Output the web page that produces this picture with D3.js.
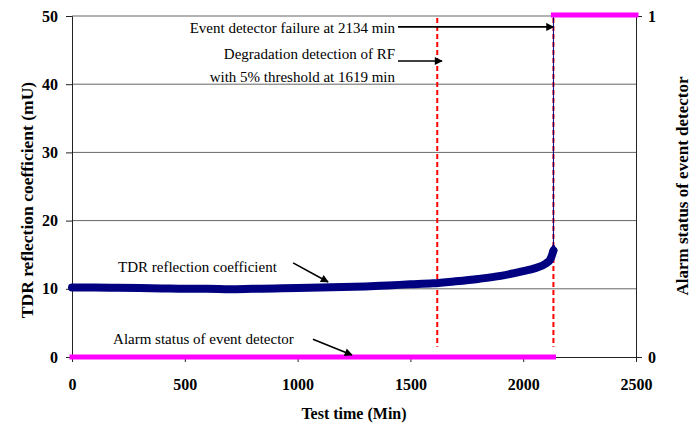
<!DOCTYPE html>
<html>
<head>
<meta charset="utf-8">
<script src="https://cdn.jsdelivr.net/npm/d3@7"></script>
<style>
  body { margin: 0; background: #fff; }
  text { font-family: "Liberation Serif", "Times New Roman", serif; }
  .tick-label { font-size: 16px; font-weight: bold; }
  .axis-title { font-size: 16px; font-weight: bold; }
  .note { font-size: 15px; }
</style>
</head>
<body>
<div id="container"></div>
<script>
/* CONSTANTS AND GLOBALS */
const width = 696,
  height = 428,
  margin = {top: 16, bottom: 71, left: 72, right: 60};

/* DATA */
// test time (min) and TDR reflection coefficient (mU)
const tdrTime  = [0, 100, 200, 300, 400, 500, 600, 700, 800, 900, 1000, 1100, 1200, 1300, 1400, 1500, 1600, 1700, 1800, 1900, 2000, 2050, 2100, 2120, 2134];
const tdrValue = [10.2, 10.2, 10.15, 10.1, 10.05, 10.0, 10.0, 9.95, 10.0, 10.05, 10.1, 10.2, 10.25, 10.35, 10.5, 10.65, 10.8, 11.1, 11.45, 11.9, 12.6, 13.0, 13.7, 14.3, 15.6];
// after the detector failure the reading shoots off the top
const tdrSpikeTime  = [2134, 2134];
const tdrSpikeValue = [15.6, 50];

// alarm status of event detector (0 / 1)
const alarmFrom  = [0, 2134];
const alarmTo    = [2134, 2500];
const alarmState = [0, 1];

const failureTime = 2134;
const degradationTime = 1619;

const xTicks = [0, 500, 1000, 1500, 2000, 2500];
const yTicks = [0, 10, 20, 30, 40, 50];
const y2Ticks = [0, 1];

/* SCALES */
const xScale = d3.scaleLinear()
  .domain([0, 2500])
  .range([margin.left, width - margin.right]);

const yScale = d3.scaleLinear()
  .domain([0, 50])
  .range([height - margin.bottom, margin.top]);

const y2Scale = d3.scaleLinear()
  .domain([0, 1])
  .range([height - margin.bottom, margin.top]);

/* HTML ELEMENTS */
const svg = d3.select("#container")
  .append("svg")
  .attr("width", width)
  .attr("height", height);

const defs = svg.append("defs");
defs.append("marker")
  .attr("id", "arrow")
  .attr("viewBox", "0 0 10 10")
  .attr("refX", 9).attr("refY", 5)
  .attr("markerWidth", 5.5).attr("markerHeight", 5)
  .attr("markerUnits", "strokeWidth")
  .attr("orient", "auto")
  .append("path")
  .attr("d", "M0,0 L10,5 L0,10 Z")
  .attr("fill", "#000");

// gridlines
svg.append("g")
  .selectAll("line")
  .data(yTicks.filter(d => d > 0))
  .join("line")
  .attr("x1", xScale(0)).attr("x2", xScale(2500))
  .attr("y1", d => yScale(d)).attr("y2", d => yScale(d))
  .attr("stroke", "#666")
  .attr("stroke-width", 1);

// axes
const xAxis = d3.axisBottom(xScale).tickValues(xTicks).tickSize(5).tickFormat(d3.format("d"));
const yAxis = d3.axisLeft(yScale).tickValues(yTicks).tickSize(6).tickFormat(d3.format("d"));
const y2Axis = d3.axisRight(y2Scale).tickValues(y2Ticks).tickSize(6).tickFormat(d3.format("d"));

const gx = svg.append("g")
  .attr("transform", `translate(0, ${yScale(0)})`)
  .call(xAxis);
gx.selectAll("text").attr("class", "tick-label").attr("dy", "1.55em").attr("fill", "#000");

const gy = svg.append("g")
  .attr("transform", `translate(${xScale(0)}, 0)`)
  .call(yAxis);
gy.selectAll("text").attr("class", "tick-label").attr("x", -14).attr("fill", "#000");

const gy2 = svg.append("g")
  .attr("transform", `translate(${xScale(2500)}, 0)`)
  .call(y2Axis);
gy2.selectAll("text").attr("class", "tick-label").attr("x", 12).attr("fill", "#000");

[gx, gy, gy2].forEach(g => {
  g.select(".domain").attr("stroke", "#222");
  g.selectAll(".tick line").attr("stroke", "#222");
});

// dashed event lines
svg.append("g")
  .selectAll("line")
  .data([degradationTime, failureTime])
  .join("line")
  .attr("x1", d => xScale(d)).attr("x2", d => xScale(d))
  .attr("y1", yScale(49.7)).attr("y2", yScale(1.5))
  .attr("stroke", "#ff0000")
  .attr("stroke-width", 2)
  .attr("stroke-dasharray", "5,3");

// TDR series
const tdr = tdrTime.map((t, i) => ({t, v: tdrValue[i]}));
const spike = tdrSpikeTime.map((t, i) => ({t, v: tdrSpikeValue[i]}));
const line = d3.line().x(d => xScale(d.t)).y(d => yScale(d.v)).curve(d3.curveMonotoneX);

svg.append("path")
  .datum(spike)
  .attr("d", d3.line().x(d => xScale(d.t)).y(d => yScale(d.v)))
  .attr("stroke", "#000080")
  .attr("stroke-width", 1)
  .attr("fill", "none");

svg.append("path")
  .datum(tdr)
  .attr("d", line)
  .attr("stroke", "#000080")
  .attr("stroke-width", 8)
  .attr("stroke-linecap", "round")
  .attr("stroke-linejoin", "round")
  .attr("fill", "none");

svg.append("path")
  .datum(tdr[tdr.length - 1])
  .attr("d", d3.symbol(d3.symbolDiamond, 60))
  .attr("transform", d => `translate(${xScale(d.t)}, ${yScale(d.v)})`)
  .attr("fill", "#000080");

// alarm series
svg.append("g")
  .selectAll("line")
  .data(alarmState.map((s, i) => ({from: alarmFrom[i], to: alarmTo[i], s})))
  .join("line")
  .attr("x1", d => xScale(d.from)).attr("x2", d => xScale(d.to))
  .attr("y1", d => y2Scale(d.s) - (d.s ? 1 : 0)).attr("y2", d => y2Scale(d.s) - (d.s ? 1 : 0))
  .attr("stroke", "#ff00ff")
  .attr("stroke-width", 5)
  .attr("stroke-linecap", "square");

/* ANNOTATIONS */
const notes = [
  {text: ["Event detector failure at 2134 min"], x: 1432, y: 47.5, anchor: "end"},
  {text: ["Degradation detection of RF", "with 5% threshold at 1619 min"], x: 1432, y: 43.7, anchor: "end"},
  {text: ["TDR reflection coefficient"], x: 204, y: 12.5, anchor: "start"},
  {text: ["Alarm status of event detector"], x: 182, y: 1.9, anchor: "start"}
];
const arrows = [
  {x1: 1445, y1: 48.4, x2: failureTime, y2: 48.4},
  {x1: 1445, y1: 43.4, x2: 1640, y2: 43.4},
  {x1: 980, y1: 13.8, x2: 1135, y2: 11.0},
  {x1: 1068, y1: 2.6, x2: 1241, y2: 0.3}
];

notes.forEach(n => {
  const t = svg.append("text")
    .attr("class", "note")
    .attr("text-anchor", n.anchor)
    .attr("x", xScale(n.x))
    .attr("y", yScale(n.y));
  n.text.forEach((s, i) => {
    t.append("tspan").attr("x", xScale(n.x)).attr("dy", i ? 23 : 0).text(s);
  });
});

svg.append("g")
  .selectAll("line")
  .data(arrows)
  .join("line")
  .attr("x1", d => xScale(d.x1)).attr("y1", d => yScale(d.y1))
  .attr("x2", d => xScale(d.x2)).attr("y2", d => yScale(d.y2))
  .attr("stroke", "#000")
  .attr("stroke-width", 1.6)
  .attr("marker-end", "url(#arrow)");

// axis titles
svg.append("text")
  .attr("class", "axis-title")
  .attr("text-anchor", "middle")
  .attr("x", (xScale(0) + xScale(2500)) / 2)
  .attr("y", 419)
  .text("Test time (Min)");

svg.append("text")
  .attr("class", "axis-title")
  .style("font-size", "17.5px")
  .attr("text-anchor", "middle")
  .attr("transform", "translate(33, 200) rotate(-90)")
  .text("TDR reflection coefficient (mU)");

svg.append("text")
  .attr("class", "axis-title")
  .style("font-size", "17px")
  .attr("text-anchor", "middle")
  .attr("transform", "translate(688, 186) rotate(-90)")
  .text("Alarm status of event detector");
</script>
</body>
</html>
